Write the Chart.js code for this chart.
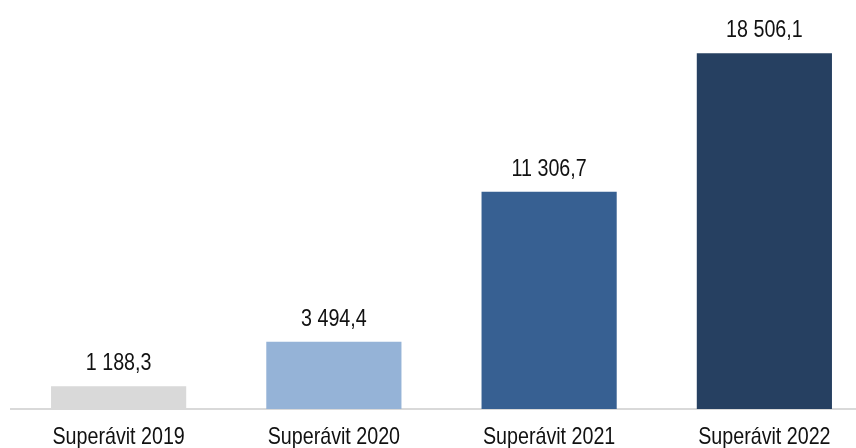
<!DOCTYPE html>
<html>
<head>
<meta charset="utf-8">
<script src="https://cdn.jsdelivr.net/npm/chart.js@4.4.0/dist/chart.umd.min.js"></script>
<style>
  html, body { margin: 0; padding: 0; background: #ffffff; overflow: hidden; }
  #wrap { position: relative; width: 872px; height: 448px; }
</style>
</head>
<body>
<div id="wrap"><canvas id="c"></canvas></div>
<script>
const categories = ["Superávit 2019", "Superávit 2020", "Superávit 2021", "Superávit 2022"];
const values = [1188.3, 3494.4, 11306.7, 18506.1];
const valueLabels = ["1 188,3", "3 494,4", "11 306,7", "18 506,1"];
const barColors = ["#d9d9d9", "#95b3d7", "#376092", "#264061"];

const FONT = "'Liberation Sans', Arial, sans-serif";
const SQUEEZE = 0.82; // mimic Arial Narrow

function condensedText(ctx, text, x, y) {
  ctx.save();
  ctx.translate(x, y);
  ctx.scale(SQUEEZE, 1);
  ctx.fillText(text, 0, 0);
  ctx.restore();
}

const labelsPlugin = {
  id: 'narrowLabels',
  afterDatasetsDraw(chart) {
    const ctx = chart.ctx;
    const meta = chart.getDatasetMeta(0);
    const xs = chart.scales.x;
    ctx.save();
    ctx.font = "24px " + FONT;
    ctx.fillStyle = "#111111";
    ctx.textAlign = "center";
    ctx.textBaseline = "alphabetic";
    meta.data.forEach((bar, i) => {
      condensedText(ctx, valueLabels[i], bar.x, bar.y - 16);
    });
    categories.forEach((cat, i) => {
      condensedText(ctx, cat, xs.getPixelForValue(i), chart.chartArea.bottom + 35);
    });
    ctx.restore();
  }
};

new Chart(document.getElementById('c'), {
  type: 'bar',
  data: {
    labels: categories,
    datasets: [{
      data: values,
      backgroundColor: barColors,
      borderWidth: 0,
      categoryPercentage: 1.0,
      barPercentage: 0.628
    }]
  },
  options: {
    responsive: true,
    maintainAspectRatio: false,
    animation: false,
    layout: { padding: { left: 11, right: 0, top: 15, bottom: 39 } },
    plugins: { legend: { display: false }, tooltip: { enabled: false } },
    scales: {
      x: {
        offset: true,
        grid: { display: false, drawTicks: false },
        border: { display: true, color: "#d9d9d9", width: 2 },
        ticks: { display: false }
      },
      y: {
        display: false,
        min: 0,
        max: 20500
      }
    }
  },
  plugins: [labelsPlugin]
});
</script>
</body>
</html>
